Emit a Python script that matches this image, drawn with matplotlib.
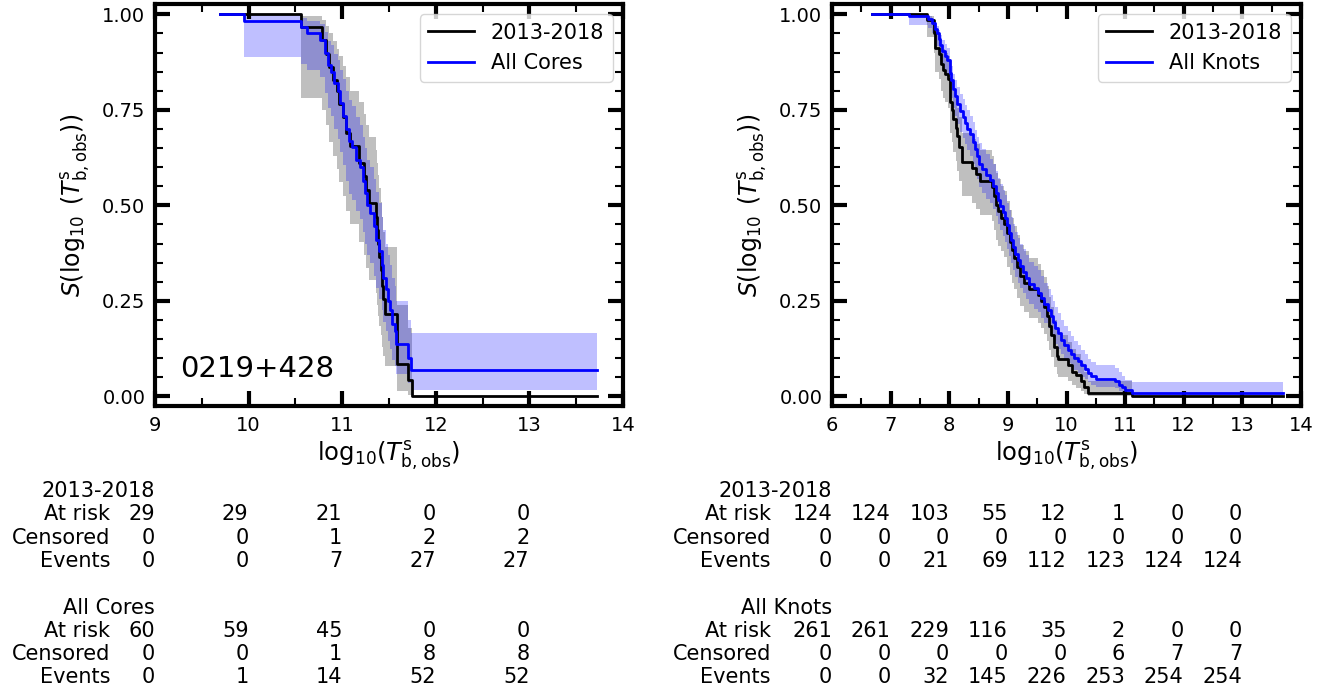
import matplotlib.pyplot as plt
from matplotlib.ticker import MultipleLocator
from matplotlib.transforms import blended_transform_factory, offset_copy

W, H = 1338, 698

# ---- left panel: 0219+428 cores, Kaplan-Meier steps ----
cores13_t = [9.69, 10.556, 10.78, 10.83, 10.86, 10.90, 10.94, 10.97, 11.005, 11.04,
             11.08, 11.18, 11.235, 11.25, 11.29, 11.365, 11.375, 11.385, 11.395, 11.41,
             11.425, 11.44, 11.46, 11.59, 11.70, 11.745, 13.72]
cores13_s = [1.0, 0.966, 0.933, 0.897, 0.862, 0.828, 0.800, 0.766, 0.731, 0.690,
             0.655, 0.612, 0.578, 0.539, 0.506, 0.470, 0.435, 0.400, 0.366, 0.330,
             0.290, 0.255, 0.217, 0.086, 0.043, 0.0, 0.0]
cores13_lo = [1.0, 0.78, 0.75, 0.71, 0.665, 0.63, 0.595, 0.56, 0.525, 0.485,
              0.45, 0.405, 0.37, 0.335, 0.305, 0.27, 0.24, 0.21, 0.185, 0.16,
              0.13, 0.105, 0.08, 0.015, 0.004, 0.0, 0.0]
cores13_hi = [1.0, 0.995, 0.985, 0.97, 0.95, 0.93, 0.91, 0.89, 0.865, 0.835,
              0.80, 0.77, 0.74, 0.71, 0.68, 0.645, 0.61, 0.58, 0.545, 0.51,
              0.47, 0.43, 0.39, 0.24, 0.18, 0.0, 0.0]

coresall_t = [9.69, 9.95, 10.556, 10.62, 10.76, 10.82, 10.85, 10.88, 10.91, 10.95,
              10.98, 11.01, 11.04, 11.07, 11.10, 11.15, 11.19, 11.22, 11.245, 11.27,
              11.30, 11.34, 11.36, 11.39, 11.42, 11.44, 11.47, 11.49, 11.51, 11.53,
              11.56, 11.58, 11.70, 11.735, 13.72]
coresall_s = [1.0, 0.983, 0.967, 0.950, 0.933, 0.900, 0.867, 0.850, 0.820, 0.800,
              0.767, 0.735, 0.700, 0.668, 0.652, 0.620, 0.600, 0.565, 0.533, 0.500,
              0.480, 0.445, 0.410, 0.380, 0.345, 0.310, 0.280, 0.250, 0.225, 0.190,
              0.170, 0.138, 0.100, 0.068, 0.068]
coresall_lo = [1.0, 0.889, 0.87, 0.855, 0.835, 0.795, 0.755, 0.735, 0.70, 0.675,
               0.64, 0.605, 0.565, 0.53, 0.515, 0.485, 0.465, 0.43, 0.40, 0.37,
               0.35, 0.315, 0.285, 0.255, 0.225, 0.195, 0.17, 0.145, 0.125, 0.095,
               0.08, 0.06, 0.035, 0.016, 0.016]
coresall_hi = [1.0, 0.998, 0.99, 0.983, 0.975, 0.955, 0.93, 0.92, 0.895, 0.88,
               0.855, 0.83, 0.80, 0.775, 0.76, 0.73, 0.71, 0.68, 0.65, 0.62,
               0.60, 0.57, 0.535, 0.505, 0.47, 0.435, 0.40, 0.37, 0.345, 0.31,
               0.29, 0.25, 0.20, 0.167, 0.167]

# ---- right panel: knots ----
knots13_t = [6.68, 7.62, 7.74, 7.76, 7.83, 7.86, 7.89, 7.92, 7.98, 8.005,
             8.04, 8.07, 8.11, 8.14, 8.17, 8.21, 8.38, 8.46, 8.53, 8.73,
             8.76, 8.80, 8.84, 8.88, 8.94, 8.99, 9.03, 9.07, 9.11, 9.16,
             9.21, 9.27, 9.36, 9.52, 9.57, 9.61, 9.66, 9.70, 9.74, 9.79,
             9.83, 9.86, 10.03, 10.10, 10.16, 10.25, 10.30, 10.36, 11.12, 13.70]
knots13_s = [1.000, 0.984, 0.952, 0.911, 0.895, 0.871, 0.855, 0.845, 0.831, 0.770,
             0.750, 0.726, 0.702, 0.681, 0.653, 0.613, 0.597, 0.581, 0.565, 0.548,
             0.524, 0.500, 0.484, 0.468, 0.452, 0.427, 0.403, 0.383, 0.363, 0.339,
             0.315, 0.298, 0.282, 0.266, 0.250, 0.234, 0.210, 0.185, 0.161, 0.129,
             0.105, 0.097, 0.081, 0.065, 0.056, 0.040, 0.024, 0.008, 0.0, 0.0]
knots13_lo = [1.0, 0.94, 0.90, 0.85, 0.83, 0.80, 0.78, 0.77, 0.755, 0.69,
              0.665, 0.64, 0.615, 0.59, 0.565, 0.525, 0.505, 0.49, 0.475, 0.458,
              0.435, 0.41, 0.395, 0.38, 0.365, 0.34, 0.317, 0.298, 0.28, 0.257,
              0.236, 0.22, 0.206, 0.192, 0.178, 0.164, 0.144, 0.122, 0.102, 0.076,
              0.058, 0.052, 0.04, 0.029, 0.023, 0.014, 0.006, 0.001, 0.0, 0.0]
knots13_hi = [1.0, 0.996, 0.978, 0.95, 0.94, 0.92, 0.91, 0.90, 0.89, 0.835,
              0.82, 0.80, 0.775, 0.755, 0.73, 0.69, 0.675, 0.66, 0.645, 0.63,
              0.607, 0.584, 0.568, 0.552, 0.537, 0.512, 0.487, 0.467, 0.447, 0.422,
              0.397, 0.38, 0.363, 0.346, 0.33, 0.313, 0.288, 0.261, 0.235, 0.199,
              0.172, 0.162, 0.143, 0.123, 0.111, 0.088, 0.064, 0.04, 0.0, 0.0]

knotsall_t = [6.68, 7.32, 7.63, 7.70, 7.75, 7.79, 7.82, 7.85, 7.88, 7.92,
              7.96, 8.005, 8.03, 8.06, 8.10, 8.14, 8.18, 8.23, 8.27, 8.31,
              8.35, 8.40, 8.44, 8.47, 8.51, 8.56, 8.62, 8.70, 8.75, 8.79,
              8.83, 8.87, 8.91, 8.95, 8.99, 9.02, 9.05, 9.09, 9.13, 9.17,
              9.21, 9.26, 9.31, 9.36, 9.44, 9.52, 9.57, 9.62, 9.68, 9.73,
              9.77, 9.81, 9.86, 9.91, 9.96, 10.02, 10.07, 10.13, 10.19, 10.25,
              10.31, 10.36, 10.42, 10.50, 10.82, 10.90, 10.95, 11.00, 11.12, 13.70]
knotsall_s = [1.000, 0.996, 0.989, 0.977, 0.962, 0.950, 0.935, 0.920, 0.905, 0.892,
              0.880, 0.847, 0.828, 0.805, 0.786, 0.766, 0.747, 0.732, 0.716, 0.701,
              0.686, 0.667, 0.647, 0.628, 0.609, 0.594, 0.579, 0.567, 0.552, 0.533,
              0.514, 0.498, 0.483, 0.467, 0.448, 0.429, 0.410, 0.391, 0.372, 0.356,
              0.341, 0.326, 0.310, 0.295, 0.283, 0.272, 0.257, 0.241, 0.226, 0.211,
              0.195, 0.180, 0.165, 0.149, 0.134, 0.122, 0.111, 0.100, 0.092, 0.081,
              0.073, 0.062, 0.054, 0.046, 0.040, 0.031, 0.024, 0.016, 0.008, 0.008]
knotsall_lo = [1.0, 0.973, 0.965, 0.95, 0.933, 0.918, 0.899, 0.882, 0.866, 0.851,
               0.837, 0.80, 0.78, 0.755, 0.735, 0.713, 0.693, 0.677, 0.66, 0.644,
               0.628, 0.608, 0.587, 0.568, 0.548, 0.533, 0.518, 0.505, 0.49, 0.471,
               0.452, 0.436, 0.421, 0.405, 0.386, 0.368, 0.35, 0.332, 0.313, 0.298,
               0.284, 0.27, 0.255, 0.241, 0.23, 0.22, 0.206, 0.192, 0.178, 0.164,
               0.15, 0.137, 0.124, 0.11, 0.097, 0.087, 0.078, 0.068, 0.061, 0.052,
               0.045, 0.037, 0.031, 0.025, 0.021, 0.014, 0.009, 0.005, 0.001, 0.001]
knotsall_hi = [1.0, 0.999, 0.996, 0.989, 0.978, 0.97, 0.958, 0.946, 0.934, 0.923,
               0.912, 0.883, 0.866, 0.845, 0.828, 0.81, 0.792, 0.778, 0.763, 0.749,
               0.735, 0.717, 0.698, 0.68, 0.662, 0.648, 0.634, 0.622, 0.608, 0.59,
               0.572, 0.556, 0.541, 0.526, 0.507, 0.488, 0.469, 0.45, 0.431, 0.415,
               0.40, 0.385, 0.369, 0.353, 0.341, 0.33, 0.314, 0.298, 0.282, 0.266,
               0.25, 0.234, 0.218, 0.20, 0.184, 0.17, 0.157, 0.145, 0.135, 0.122,
               0.112, 0.099, 0.09, 0.082, 0.075, 0.063, 0.054, 0.044, 0.037, 0.037]

# ---- at-risk tables (columns sit on the x ticks) ----
cores_ticks = [9, 10, 11, 12, 13]
cores_names = ["2013-2018", "All Cores"]
cores_risk = [[29, 29, 21, 0, 0], [60, 59, 45, 0, 0]]
cores_cens = [[0, 0, 1, 2, 2], [0, 0, 1, 8, 8]]
cores_events = [[0, 0, 7, 27, 27], [0, 1, 14, 52, 52]]

knots_ticks = [6, 7, 8, 9, 10, 11, 12, 13]
knots_names = ["2013-2018", "All Knots"]
knots_risk = [[124, 124, 103, 55, 12, 1, 0, 0], [261, 261, 229, 116, 35, 2, 0, 0]]
knots_cens = [[0, 0, 0, 0, 0, 0, 0, 0], [0, 0, 0, 0, 0, 6, 7, 7]]
knots_events = [[0, 0, 21, 69, 112, 123, 124, 124], [0, 0, 32, 145, 226, 253, 254, 254]]


def km(ax, t, s, lo, hi, color, label):
    ax.fill_between(t, lo, hi, step='post', color=color, alpha=0.25, linewidth=0)
    ax.step(t, s, where='post', color=color, lw=2, label=label)


def style(ax, xlim):
    ax.set_xlim(*xlim)
    ax.set_ylim(-0.025, 1.027)
    ax.xaxis.set_major_locator(MultipleLocator(1))
    ax.xaxis.set_minor_locator(MultipleLocator(0.5))
    ax.yaxis.set_major_locator(MultipleLocator(0.25))
    ax.yaxis.set_minor_locator(MultipleLocator(0.05))
    ax.tick_params(which='both', direction='in', top=True, right=True, labelsize=14)
    ax.tick_params(which='major', length=11, width=3, pad=7)
    ax.tick_params(which='minor', length=6, width=1.5)
    for sp in ax.spines.values():
        sp.set_linewidth(3)
    ax.set_xlabel(r'$\mathrm{log}_{10}(T^{\rm s}_{\rm b,obs})$', fontsize=17.5, labelpad=3)
    ax.set_ylabel(r'$S(\log_{10}\;(T^{\rm s}_{\rm b,obs}))$', fontsize=17, labelpad=7)
    ax.legend(loc='upper right', fontsize=15, handlelength=2.2)


def table(ax, ticks, names, risk, cens, events, label_off):
    fs = 15
    trans = blended_transform_factory(ax.transData, fig.transFigure)
    label_trans = offset_copy(trans, fig=fig, x=-label_off, units='dots')
    y = 491
    for k in range(2):
        fig.text(ticks[0], 1 - y / H, names[k], ha='right', va='center',
                 fontsize=fs, transform=trans)
        rows = [("At risk", risk[k]), ("Censored", cens[k]), ("Events", events[k])]
        for i, (lab, vals) in enumerate(rows):
            yy = 1 - (y + 23.3 * (i + 1)) / H
            fig.text(ticks[0], yy, lab, ha='right', va='center', fontsize=fs,
                     transform=label_trans)
            for tk, v in zip(ticks, vals):
                fig.text(tk, yy, str(v), ha='right', va='center', fontsize=fs,
                         transform=trans)
        y += 116.5


fig = plt.figure(figsize=(W / 100, H / 100), dpi=100)
ax1 = fig.add_axes([155 / W, 1 - 406 / H, 468 / W, 402 / H])
ax2 = fig.add_axes([832 / W, 1 - 406 / H, 469 / W, 402 / H])

km(ax1, cores13_t, cores13_s, cores13_lo, cores13_hi, 'black', '2013-2018')
km(ax1, coresall_t, coresall_s, coresall_lo, coresall_hi, 'blue', 'All Cores')
style(ax1, (9, 14))
ax1.text(0.053, 0.073, '0219+428', transform=ax1.transAxes, fontsize=21)

km(ax2, knots13_t, knots13_s, knots13_lo, knots13_hi, 'black', '2013-2018')
km(ax2, knotsall_t, knotsall_s, knotsall_lo, knotsall_hi, 'blue', 'All Knots')
style(ax2, (6, 14))

table(ax1, cores_ticks, cores_names, cores_risk, cores_cens, cores_events, 45)
table(ax2, knots_ticks, knots_names, knots_risk, knots_cens, knots_events, 61)

fig.savefig('out.png', dpi=100)
